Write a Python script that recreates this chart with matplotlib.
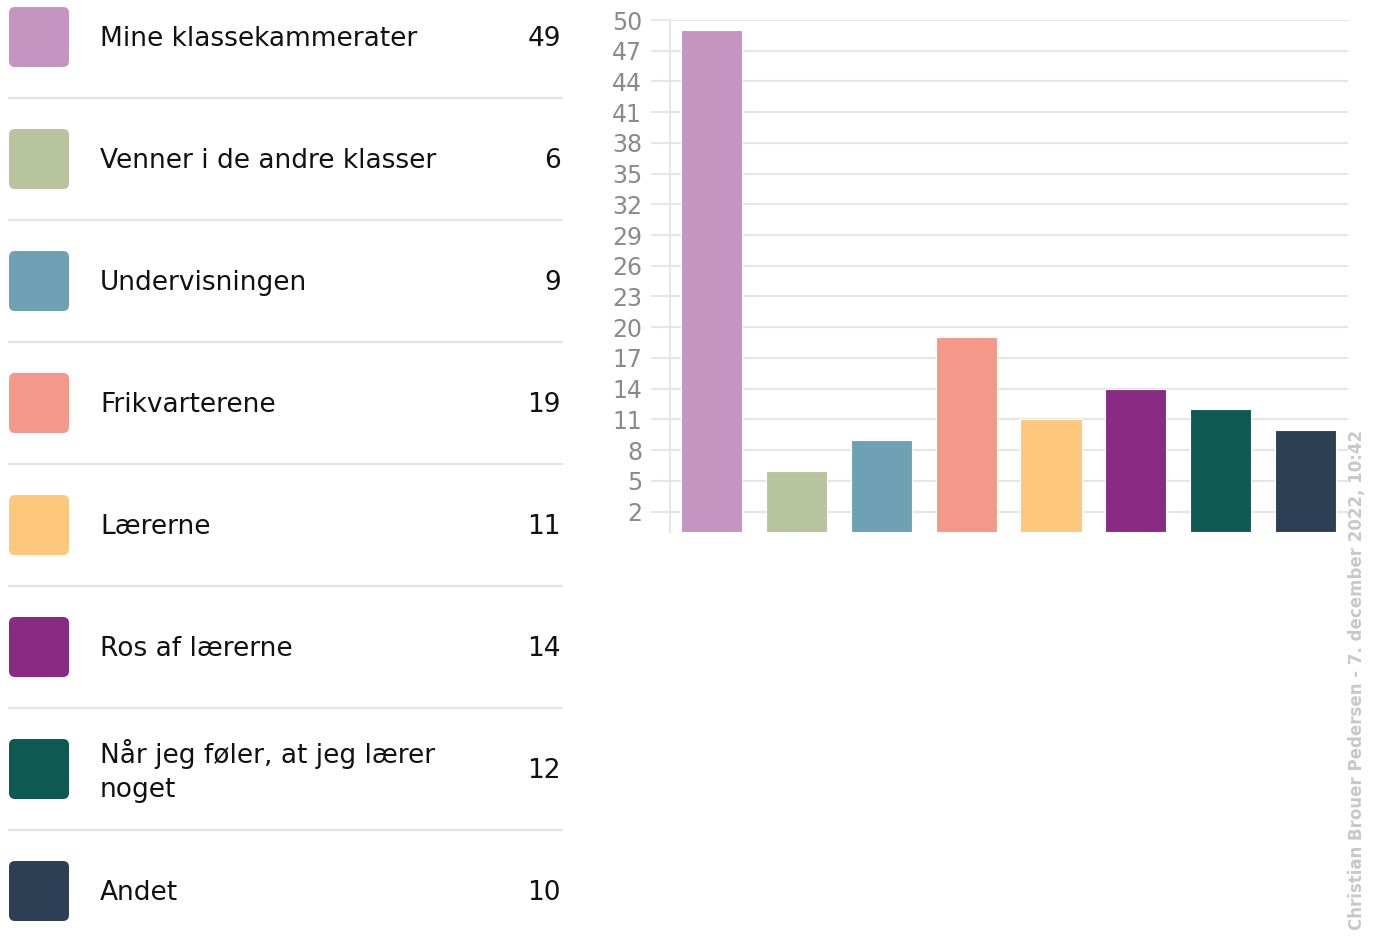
import matplotlib
matplotlib.use("Agg")
import matplotlib.pyplot as plt
from matplotlib.patches import FancyBboxPatch

# data
labels = ["Mine klassekammerater", "Venner i de andre klasser", "Undervisningen",
          "Frikvarterene", "Lærerne", "Ros af lærerne",
          "Når jeg føler, at jeg lærer\nnoget", "Andet"]
values = [49, 6, 9, 19, 11, 14, 12, 10]
colors = ["#C495C0", "#B7C49E", "#6FA1B4", "#F4998A", "#FDC77C", "#8B2A82", "#0E5A53", "#2C3F55"]
yticks = list(range(2, 51, 3))

W, H = 1382, 947
fig = plt.figure(figsize=(W / 100, H / 100), dpi=100)
plt.rcParams['font.family'] = ['DejaVu Sans']

# bar chart
ax = fig.add_axes([670 / W, (H - 532) / H, (1348 - 670) / W, (532 - 20) / H])
ax.bar(range(len(values)), values, width=0.72, color=colors, edgecolor="white", linewidth=0.8, zorder=3)
ax.set_xlim(-0.49, 7.5)
ax.set_ylim(0, 50)
ax.set_yticks(yticks)
ax.set_yticklabels([str(t) for t in yticks], color="#8a8a8a", fontsize=17)
ax.tick_params(axis="y", length=14, color="#e6e6e6", width=1.5, pad=6)
ax.set_xticks([])
ax.grid(axis="y", color="#e6e6e6", linewidth=1.5, zorder=0)
for s in ["top", "right", "bottom"]:
    ax.spines[s].set_visible(False)
ax.spines["left"].set_color("#e6e6e6")
ax.spines["left"].set_linewidth(1.5)

# legend table on the left
lg = fig.add_axes([0, 0, 580 / W, 1])
lg.set_xlim(0, 580)
lg.set_ylim(H, 0)
lg.axis("off")
for i, (lab, val, col) in enumerate(zip(labels, values, colors)):
    yc = 37 + 122 * i
    lg.add_patch(FancyBboxPatch((9 + 6, yc - 30 + 6), 60 - 12, 60 - 12,
                                boxstyle="round,pad=6", facecolor=col, edgecolor="none"))
    lg.text(100, yc + 2, lab, fontsize=19, va="center", ha="left", color="#111111", linespacing=1.4)
    lg.text(561, yc + 2, str(val), fontsize=19, va="center", ha="right", color="#111111")
    if i < len(labels) - 1:
        lg.plot([9, 562], [yc + 61, yc + 61], color="#e3e3e3", linewidth=1.5)

fig.text(1357 / W, (H - 930) / H, "Christian Brouer Pedersen - 7. december 2022, 10:42",
         rotation=90, ha="center", va="bottom", fontsize=12, color="#c8c8c8", fontweight="bold")

fig.savefig("out.png", dpi=100, facecolor="white")
